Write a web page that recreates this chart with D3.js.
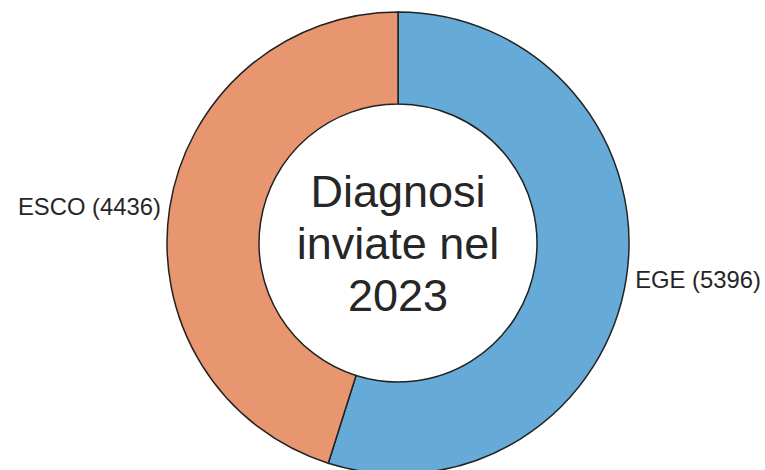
<!DOCTYPE html>
<html>
<head>
<meta charset="utf-8">
<script src="https://cdn.jsdelivr.net/npm/d3@7"></script>
<style>
  body { margin: 0; background: #fff; }
  svg text { font-family: "Liberation Sans", Arial, sans-serif; fill: #262626; }
</style>
</head>
<body>
<div id="chart"></div>
<script>
// data
const categories = ['EGE', 'ESCO'];
const values = [5396, 4436];
const colors = ['#66abd7', '#e8966f'];
const centerLines = ['Diagnosi', 'inviate nel', '2023'];

const width = 765, height = 470;
const cx = 398, cy = 243;
const outerR = 231, innerR = 139, labelR = 240;

const svg = d3.select('#chart')
    .append('svg')
    .attr('width', width)
    .attr('height', height);

const g = svg.append('g').attr('transform', `translate(${cx},${cy})`);

const pie = d3.pie().sort(null).value(d => d.v);
const arcs = pie(categories.map((c, i) => ({ c, v: values[i], col: colors[i] })));

const arc = d3.arc().innerRadius(innerR).outerRadius(outerR);

g.selectAll('path')
    .data(arcs)
    .join('path')
    .attr('d', arc)
    .attr('fill', d => d.data.col)
    .attr('stroke', '#222')
    .attr('stroke-width', 1.5)
    .attr('stroke-linejoin', 'miter');

// labels outside, left/right aligned depending on side
g.selectAll('text.lbl')
    .data(arcs)
    .join('text')
    .classed('lbl', true)
    .attr('x', d => labelR * Math.sin((d.startAngle + d.endAngle) / 2))
    .attr('y', d => -labelR * Math.cos((d.startAngle + d.endAngle) / 2))
    .attr('dy', '0.35em')
    .attr('text-anchor', d => Math.sin((d.startAngle + d.endAngle) / 2) > 0 ? 'start' : 'end')
    .style('font-size', '23.8px')
    .text(d => `${d.data.c} (${d.data.v})`);

// center text
const lineH = 52;
g.selectAll('text.center')
    .data(centerLines)
    .join('text')
    .classed('center', true)
    .attr('x', 0)
    .attr('y', (d, i) => (i - 1) * lineH)
    .attr('dy', '0.35em')
    .attr('text-anchor', 'middle')
    .style('font-size', '45px')
    .text(d => d);
</script>
</body>
</html>
